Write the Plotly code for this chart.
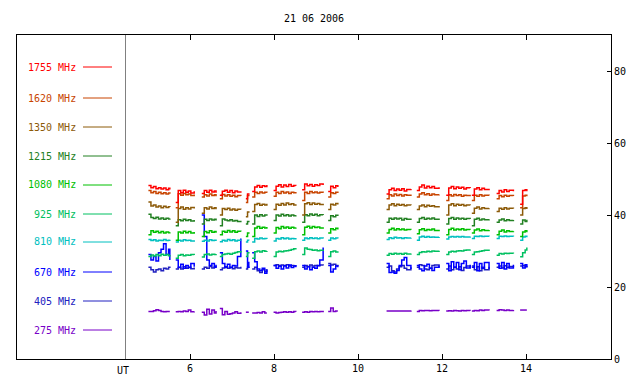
import plotly.graph_objects as go

# ---- observation windows (UT hours) ----
seg_times = [
    [5.01, 5.07, 5.13, 5.19, 5.25, 5.31, 5.37, 5.43, 5.49, 5.52],
    [5.66, 5.72, 5.78, 5.84, 5.90, 5.96, 6.02, 6.10],
    [6.28, 6.34, 6.40, 6.46, 6.52, 6.58, 6.62],
    [6.71, 6.77, 6.83, 6.89, 6.95, 7.01, 7.07, 7.13, 7.21],
    [7.33, 7.37, 7.40],
    [7.48, 7.54, 7.60, 7.66, 7.72, 7.78, 7.83],
    [7.99, 8.05, 8.11, 8.17, 8.23, 8.29, 8.35, 8.41, 8.47, 8.52],
    [8.67, 8.73, 8.79, 8.85, 8.91, 8.97, 9.03, 9.09, 9.17],
    [9.29, 9.35, 9.41, 9.47, 9.52],
    [10.68, 10.74, 10.80, 10.86, 10.92, 10.98, 11.04, 11.10, 11.16, 11.26],
    [11.40, 11.46, 11.52, 11.58, 11.64, 11.70, 11.76, 11.82, 11.93],
    [12.10, 12.16, 12.22, 12.28, 12.34, 12.40, 12.46, 12.52, 12.58, 12.67],
    [12.71, 12.77, 12.83, 12.89, 12.95, 13.01, 13.12],
    [13.30, 13.36, 13.42, 13.48, 13.54, 13.60, 13.70],
    [13.86, 13.92, 13.98, 14.02],
]

f1755 = [
    [48.2, 47.6, 47.9, 47.3, 47.6, 47.2, 47.5, 47.0, 47.4, 47.1],
    [43.5, 46.8, 46.2, 46.9, 46.3, 46.7, 46.1, 46.6],
    [46.0, 46.8, 46.3, 46.9, 46.4, 46.7, 46.2],
    [45.5, 46.6, 46.9, 46.3, 46.8, 46.2, 46.7, 46.4, 46.6],
    [44.5, 45.8, 45.6],
    [46.5, 47.8, 48.2, 47.7, 48.1, 47.9, 48.3],
    [46.8, 48.0, 48.4, 47.8, 48.3, 47.9, 48.5, 48.0, 48.2, 48.1],
    [47.0, 48.6, 48.1, 48.5, 48.0, 48.4, 48.2, 48.6, 48.3],
    [46.5, 48.0, 47.6, 48.1, 47.8],
    [45.8, 47.0, 47.4, 46.8, 47.2, 46.9, 47.3, 46.7, 47.1, 47.2],
    [46.8, 47.8, 48.3, 47.5, 48.0, 47.6, 47.9, 47.4, 47.7],
    [45.5, 47.5, 47.9, 47.3, 47.8, 47.4, 47.7, 47.2, 47.6, 47.5],
    [45.5, 47.2, 47.6, 47.0, 47.4, 47.1, 47.3],
    [46.0, 46.8, 46.4, 47.0, 46.5, 46.9, 46.6],
    [43.0, 46.8, 47.0, 46.6],
]
f1620 = [
    [46.8, 46.2, 46.5, 46.0, 46.3, 45.9, 46.2, 45.8, 46.1, 45.9],
    [42.0, 45.9, 45.5, 46.0, 45.6, 45.8, 45.4, 45.7],
    [45.0, 45.6, 45.3, 45.8, 45.4, 45.6, 45.2],
    [44.5, 45.7, 45.3, 45.6, 45.2, 45.5, 45.1, 45.4, 45.3],
    [43.5, 45.4, 45.2],
    [45.0, 46.3, 46.0, 46.4, 46.1, 46.3, 46.2],
    [45.2, 46.3, 46.0, 46.5, 46.1, 46.4, 46.0, 46.3, 46.2, 46.4],
    [44.0, 46.3, 46.0, 46.5, 46.2, 46.4, 46.1, 46.3, 46.2],
    [45.0, 46.2, 46.0, 46.3, 46.1],
    [44.5, 45.6, 45.3, 45.8, 45.4, 45.7, 45.3, 45.6, 45.5, 45.7],
    [45.0, 45.8, 46.2, 45.6, 45.9, 45.5, 45.8, 45.6, 45.7],
    [44.0, 45.6, 45.3, 45.7, 45.4, 45.6, 45.2, 45.5, 45.4, 45.6],
    [44.0, 45.5, 45.2, 45.6, 45.3, 45.5, 45.4],
    [44.5, 45.4, 45.1, 45.5, 45.2, 45.4, 45.3],
    [42.0, 45.3, 45.5, 45.2],
]
f1350 = [
    [43.6, 42.5, 42.8, 42.2, 42.5, 42.0, 42.4, 42.1, 42.3, 42.2],
    [38.0, 41.8, 42.2, 41.6, 42.0, 41.7, 42.1, 41.8],
    [40.5, 42.0, 41.7, 42.2, 41.8, 42.0, 41.6],
    [40.0, 41.8, 41.5, 41.9, 41.4, 41.7, 41.3, 41.6, 41.5],
    [39.5, 40.8, 40.6],
    [41.0, 42.9, 43.2, 42.7, 43.0, 42.8, 43.1],
    [41.5, 43.0, 42.7, 43.2, 42.8, 43.3, 42.9, 43.1, 42.8, 43.0],
    [40.0, 43.1, 43.4, 42.9, 43.3, 43.0, 43.2, 42.9, 43.1],
    [41.5, 43.0, 42.8, 43.2, 42.9],
    [41.5, 42.8, 43.1, 42.6, 43.0, 42.7, 42.9, 42.6, 42.8, 42.7],
    [41.5, 42.5, 42.8, 42.3, 42.7, 42.4, 42.6, 42.3, 42.5],
    [40.0, 42.8, 43.1, 42.6, 43.0, 42.7, 42.9, 42.6, 42.8, 42.7],
    [40.5, 41.9, 42.2, 41.7, 42.0, 41.8, 41.9],
    [41.0, 41.9, 41.6, 42.0, 41.7, 41.9, 41.8],
    [40.0, 41.8, 42.0, 41.7],
]
f1215 = [
    [40.2, 39.3, 39.0, 39.4, 38.9, 39.2, 38.8, 39.1, 38.9, 39.0],
    [37.0, 38.7, 38.4, 38.8, 38.5, 38.7, 38.3, 38.6],
    [37.5, 38.8, 38.5, 38.9, 38.6, 38.8, 38.5],
    [37.0, 38.9, 38.6, 38.4, 38.7, 38.3, 38.5, 38.2, 38.4],
    [37.5, 38.2, 38.0],
    [37.5, 40.0, 39.6, 40.1, 39.7, 40.0, 39.8],
    [38.5, 40.0, 39.7, 40.2, 39.8, 40.1, 39.7, 40.0, 39.8, 39.9],
    [38.0, 40.1, 39.8, 40.3, 39.9, 40.2, 39.8, 40.1, 40.0],
    [38.5, 39.8, 39.5, 39.9, 39.7],
    [38.0, 39.1, 38.8, 39.2, 38.9, 39.1, 38.6, 39.0, 38.8, 39.0],
    [38.0, 39.0, 39.3, 38.8, 39.1, 38.9, 39.2, 38.8, 39.0],
    [37.5, 39.0, 39.3, 38.8, 39.2, 38.9, 39.1, 38.8, 39.0, 38.9],
    [37.0, 38.8, 39.1, 38.6, 38.9, 38.7, 38.8],
    [38.0, 38.6, 38.9, 38.4, 38.7, 38.5, 38.6],
    [37.5, 38.6, 38.2, 38.7],
]
f1080 = [
    [34.5, 35.6, 35.2, 35.5, 35.1, 35.4, 35.0, 35.3, 35.1, 35.2],
    [33.0, 35.3, 35.0, 35.5, 35.1, 35.4, 35.0, 35.3],
    [34.0, 35.4, 35.1, 35.6, 35.2, 35.4, 35.1],
    [34.5, 35.5, 35.2, 35.7, 35.3, 35.6, 35.2, 35.5, 35.4],
    [34.0, 35.0, 34.8],
    [34.0, 36.4, 36.8, 36.3, 36.6, 36.4, 36.7],
    [35.0, 36.5, 36.2, 36.8, 36.4, 36.7, 36.3, 36.6, 36.4, 36.5],
    [34.5, 36.6, 36.9, 36.4, 36.8, 36.5, 36.7, 36.4, 36.6],
    [35.0, 36.2, 35.9, 36.3, 36.0],
    [35.0, 36.0, 36.3, 35.8, 36.2, 35.9, 36.1, 35.8, 36.0, 35.9],
    [34.8, 35.9, 36.2, 35.7, 36.0, 35.8, 36.1, 35.7, 35.9],
    [34.5, 36.0, 36.3, 35.8, 36.1, 35.9, 36.2, 35.8, 36.0, 35.9],
    [35.0, 35.8, 36.1, 35.6, 35.9, 35.7, 35.8],
    [34.5, 35.5, 35.8, 35.3, 35.6, 35.4, 35.5],
    [34.0, 35.3, 35.6, 35.2],
]
f925 = [
    [28.5, 28.9, 28.6, 29.0, 28.7, 29.1, 28.8, 29.0, 28.7, 28.9],
    [28.0, 28.8, 29.0, 28.7, 28.9, 28.8, 29.0, 28.9],
    [28.3, 29.0, 29.2, 28.9, 29.1, 29.0, 29.2],
    [28.5, 29.0, 29.2, 29.3, 29.1, 29.4, 29.6, 29.8, 30.0],
    [28.5, 29.5, 29.3],
    [28.0, 29.8, 30.0, 29.7, 30.1, 29.9, 30.0],
    [28.5, 29.7, 29.9, 29.8, 30.0, 30.1, 30.2, 30.4, 30.6, 30.8],
    [29.0, 30.8, 30.5, 30.4, 30.2, 30.3, 30.1, 30.2, 30.3],
    [28.5, 29.8, 30.0, 29.7, 29.9],
    [28.8, 29.3, 29.1, 29.4, 29.2, 29.3, 29.1, 29.4, 29.2, 29.3],
    [29.0, 29.6, 29.8, 29.7, 29.9, 29.8, 30.0, 29.9, 30.1],
    [29.0, 29.7, 29.9, 29.8, 30.0, 30.1, 30.0, 30.2, 30.3, 30.4],
    [29.0, 29.7, 29.8, 29.9, 30.1, 30.2, 30.4],
    [28.8, 29.3, 29.2, 29.4, 29.3, 29.4, 29.3],
    [28.4, 29.5, 30.3, 31.0],
]
f810 = [
    [33.2, 32.9, 33.1, 32.8, 33.0, 32.9, 33.2, 32.9, 33.0, 33.1],
    [32.5, 33.0, 32.8, 33.1, 32.9, 33.0, 32.8, 33.0],
    [32.7, 33.0, 32.8, 33.1, 32.9, 33.0, 32.8],
    [32.6, 33.0, 32.8, 33.2, 32.9, 33.1, 32.8, 33.0, 32.9],
    [32.5, 33.0, 32.9],
    [32.5, 33.5, 33.3, 33.6, 33.4, 33.5, 33.3],
    [32.8, 33.5, 33.3, 33.7, 33.4, 33.6, 33.3, 33.5, 33.4, 33.6],
    [33.0, 33.6, 33.4, 33.7, 33.5, 33.6, 33.4, 33.6, 33.5],
    [33.0, 33.6, 33.4, 33.6, 33.5],
    [33.2, 33.7, 33.5, 33.8, 33.6, 33.7, 33.5, 33.7, 33.6, 33.7],
    [33.0, 33.9, 34.1, 33.8, 34.0, 33.8, 33.9, 33.8, 33.9],
    [33.3, 33.9, 34.0, 33.9, 34.0, 33.9, 34.0, 33.9, 33.9, 34.0],
    [33.5, 34.1, 34.0, 34.2, 34.0, 34.1, 34.0],
    [33.5, 34.1, 34.0, 34.2, 34.0, 34.1, 34.0],
    [33.0, 33.9, 34.1, 33.8],
]
f670 = [
    [29.0, 27.5, 28.5, 27.2, 29.5, 30.5, 32.0, 29.0, 30.5, 27.5],
    [27.5, 25.5, 26.3, 25.2, 26.0, 25.4, 26.5, 25.6],
    [40.0, 34.0, 27.5, 26.0, 26.5, 25.5, 26.2],
    [29.5, 26.5, 25.5, 26.3, 25.4, 26.0, 25.8, 28.5, 33.5],
    [30.0, 25.5, 27.0],
    [29.5, 27.0, 25.0, 24.6, 25.2, 23.8, 24.8],
    [26.0, 25.2, 25.8, 25.0, 25.9, 25.3, 26.1, 25.4, 25.8, 25.5],
    [26.0, 25.0, 25.6, 24.8, 25.5, 25.2, 26.0, 27.5, 31.0],
    [26.0, 24.2, 25.0, 25.8, 25.5],
    [26.5, 24.0, 24.2, 23.8, 24.6, 26.0, 27.5, 28.2, 26.0, 25.0],
    [26.0, 25.0, 24.5, 25.8, 26.3, 25.2, 24.6, 25.5, 26.0],
    [26.5, 24.5, 27.0, 25.5, 26.8, 24.8, 26.5, 27.2, 25.3, 26.2],
    [25.5, 26.8, 24.5, 26.5, 25.2, 26.8, 25.0],
    [26.5, 25.2, 26.8, 25.0, 26.5, 25.3, 26.2],
    [26.5, 25.3, 26.2, 25.5],
]
f405 = [
    [25.5, 24.8, 24.2, 24.8, 25.0, 24.5, 25.2, 25.0, 25.5, 25.3],
    [25.0, 25.4, 25.0, 25.6, 25.2, 25.5, 25.1, 25.4],
    [25.0, 25.5, 25.2, 25.7, 25.3, 25.6, 25.4],
    [24.8, 25.3, 25.6, 25.2, 25.5, 25.1, 25.4, 25.3, 25.6],
    [25.0, 25.5, 25.3],
    [25.0, 25.5, 24.5, 24.0, 24.8, 24.3, 25.0],
    [26.0, 26.2, 25.8, 26.1, 25.9, 26.2, 25.8, 26.0, 25.9, 26.1],
    [25.5, 26.0, 25.7, 26.1, 25.8, 26.0, 25.9, 26.1, 26.0],
    [26.5, 26.1, 26.3, 26.0, 26.2],
    [25.5, 25.8, 24.5, 24.2, 25.0, 25.6, 26.0, 25.2, 24.8, 25.5],
    [25.5, 26.2, 26.0, 25.0, 24.8, 25.2, 26.0, 26.1, 25.4],
    [25.0, 25.8, 24.8, 25.5, 25.0, 25.6, 24.6, 25.4, 25.8, 25.2],
    [25.8, 24.8, 25.6, 24.5, 25.5, 24.8, 25.6],
    [25.5, 25.8, 25.3, 25.9, 25.4, 25.7, 25.6],
    [25.8, 26.0, 25.6, 25.9],
]
f275 = [
    [13.2, 13.2, 13.4, 13.7, 13.5, 13.2, 13.1, 13.2, 13.2, 13.2],
    [13.1, 13.2, 13.1, 13.3, 13.2, 13.6, 13.1, 13.2],
    [13.0, 12.2, 13.8, 12.5, 13.6, 12.8, 13.3],
    [14.0, 12.3, 13.2, 12.4, 12.6, 12.8, 13.1, 12.7, 13.0],
    [13.0, 13.0, 13.0],
    [12.8, 12.8, 12.9, 12.8, 13.1, 12.8, 12.8],
    [13.0, 12.8, 12.9, 13.0, 13.1, 13.0, 13.1, 13.0, 13.2, 13.1],
    [13.0, 13.1, 13.0, 13.2, 13.1, 13.2, 13.1, 13.2, 13.4],
    [13.2, 14.2, 13.2, 13.3, 13.3],
    [13.3, 13.3, 13.3, 13.3, 13.3, 13.3, 13.3, 13.3, 13.3, 13.5],
    [13.2, 13.5, 13.4, 13.5, 13.5, 13.4, 13.5, 13.5, 13.4],
    [13.3, 13.4, 13.3, 13.5, 13.4, 13.3, 13.5, 13.4, 13.5, 13.4],
    [13.3, 13.5, 13.4, 13.6, 13.5, 13.6, 13.5],
    [13.5, 13.7, 13.6, 13.5, 13.6, 13.5, 13.6],
    [13.6, 13.6, 13.6, 13.6],
]

labels = ["1755 MHz", "1620 MHz", "1350 MHz", "1215 MHz", "1080 MHz",
          "925 MHz", "810 MHz", "670 MHz", "405 MHz", "275 MHz"]
colors = ["#ff0000", "#c84400", "#8c5a08", "#228022", "#00c000",
          "#00c060", "#00c0c0", "#0000ff", "#2020c0", "#7800c8"]
series = [f1755, f1620, f1350, f1215, f1080, f925, f810, f670, f405, f275]
x_ticks = [6, 8, 10, 12, 14]
y_ticks = [0, 20, 40, 60, 80]


def flatten(segs):
    out = []
    for s in segs:
        out += list(s) + [None]
    return out


xs = flatten(seg_times)
FONT = "DejaVu Sans Mono"

fig = go.Figure()
for lab, col, data in reversed(list(zip(labels, colors, series))):
    fig.add_trace(go.Scatter(x=xs, y=flatten(data), mode="lines",
                             line=dict(color=col, width=1.5, shape="hv"),
                             name=lab, showlegend=False, connectgaps=False,
                             hoverinfo="skip"))

# page pixel geometry of the plot box (browser body has an 8px margin)
OFF = 8
L, R, T, B = 17, 611, 35, 359
W, H = 640 - OFF, 384 - OFF


def px(xp):
    return (xp - L) / (R - L)


def py(yp):
    return (B - yp) / (B - T)


label_y = [67, 98, 127, 156, 185, 214, 242, 272, 301, 330]
shapes = []
annotations = []
for lab, col, yy in zip(labels, colors, label_y):
    annotations.append(dict(text=lab, x=px(78), y=py(yy), xref="paper", yref="paper",
                            xanchor="right", yanchor="middle", showarrow=False,
                            font=dict(family=FONT, size=10, color=col)))
    shapes.append(dict(type="line", xref="paper", yref="paper",
                       x0=px(83), x1=px(112), y0=py(yy), y1=py(yy),
                       line=dict(color=col, width=1)))

shapes.append(dict(type="line", xref="paper", yref="paper",
                   x0=px(125.5), x1=px(125.5), y0=0, y1=1,
                   line=dict(color="#808080", width=1)))
annotations.append(dict(text="UT", x=px(123), y=py(370), xref="paper", yref="paper",
                        xanchor="center", yanchor="middle", showarrow=False,
                        font=dict(family=FONT, size=10, color="black")))

x_left = 6 - (190 - L) / 42.0
x_right = 6 + (R - 190) / 42.0

fig.update_layout(
    width=W, height=H,
    margin=dict(l=L - OFF, r=640 - R, t=T - OFF, b=384 - B, pad=0),
    paper_bgcolor="white", plot_bgcolor="white",
    title=dict(text="21 06 2006", x=px(314), xref="paper", y=1 - (18 - OFF) / H,
               yanchor="middle", xanchor="center",
               font=dict(family=FONT, size=10, color="black")),
    xaxis=dict(range=[x_left, x_right], tickvals=x_ticks, ticks="inside", ticklen=5,
               tickcolor="black", showline=True, linecolor="black", linewidth=1,
               mirror="ticks", showgrid=False, zeroline=False,
               tickfont=dict(family=FONT, size=10, color="black")),
    yaxis=dict(range=[0, 90], tickvals=y_ticks, side="right", ticks="inside", ticklen=4,
               tickcolor="black", showline=True, linecolor="black", linewidth=1,
               mirror=True, showgrid=False, zeroline=False,
               tickfont=dict(family=FONT, size=10, color="black")),
    shapes=shapes, annotations=annotations,
)

fig.write_html("out.html")
